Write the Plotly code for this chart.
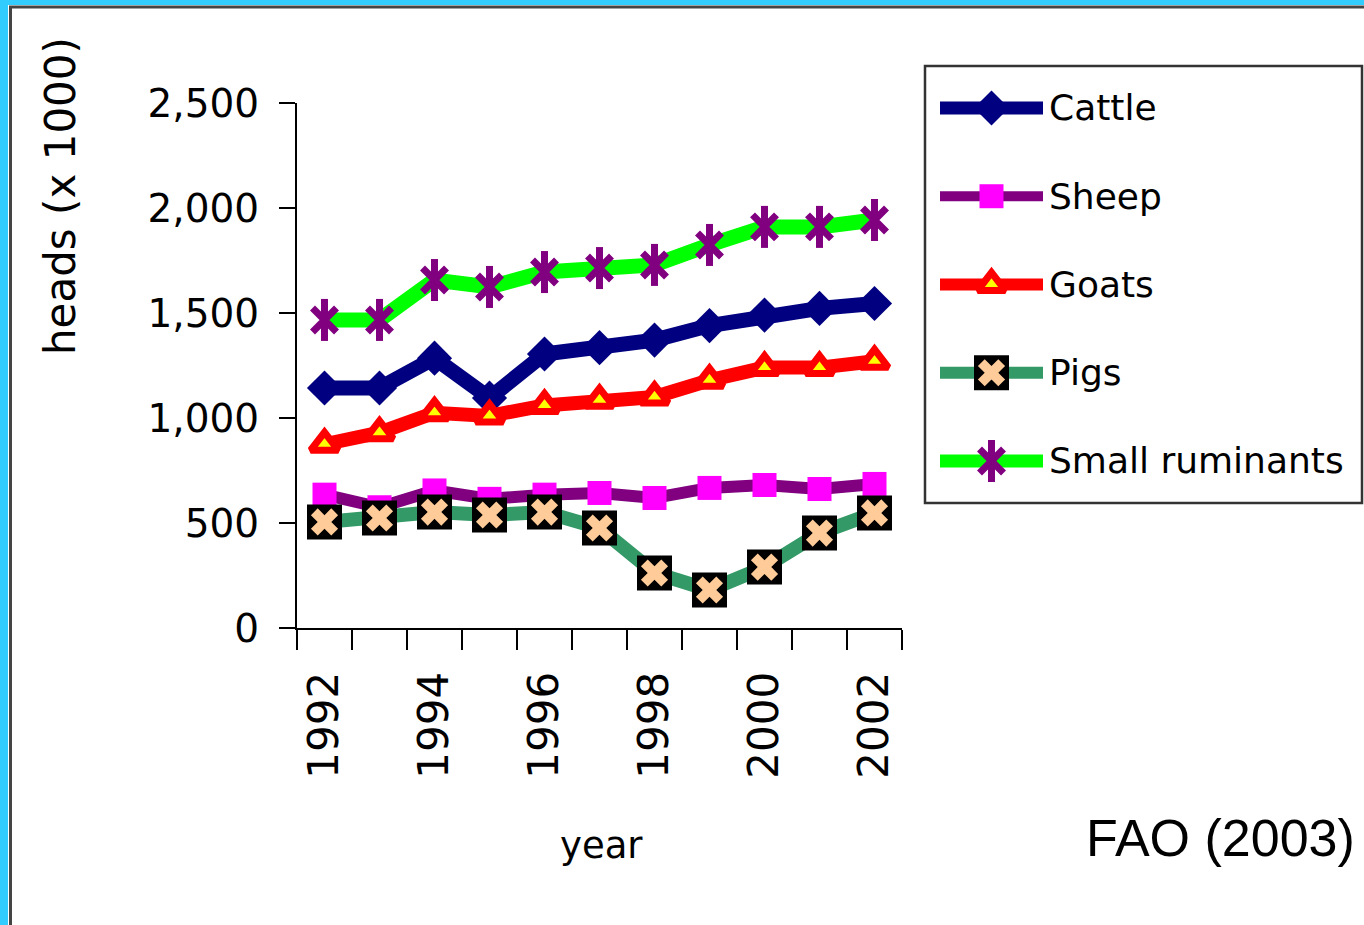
import plotly.graph_objects as go

# ---------------- data ----------------
years = [1992, 1993, 1994, 1995, 1996, 1997, 1998, 1999, 2000, 2001, 2002]
series_names = ["Cattle", "Sheep", "Goats", "Pigs", "Small ruminants"]
cattle = [1143, 1143, 1285, 1095, 1305, 1335, 1371, 1440, 1490, 1522, 1545]
sheep = [635, 575, 655, 615, 635, 643, 619, 667, 681, 662, 686]
goats = [875, 930, 1025, 1010, 1060, 1085, 1100, 1180, 1240, 1240, 1270]
pigs = [505, 524, 552, 538, 552, 476, 262, 181, 290, 452, 548]
small_ruminants = [1467, 1467, 1657, 1624, 1695, 1714, 1729, 1824, 1910, 1910, 1943]
y_tick_values = [0, 500, 1000, 1500, 2000, 2500]
x_tick_years = [1992, 1994, 1996, 1998, 2000, 2002]
y_title = "heads (x 1000)"
x_title = "year"
source_text = "FAO (2003)"

values = {
    "Cattle": cattle,
    "Sheep": sheep,
    "Goats": goats,
    "Pigs": pigs,
    "Small ruminants": small_ruminants,
}

# ---------------- styles ----------------
STYLE = {
    "Cattle": dict(line="#000080", lw=15, layers=[
        dict(symbol="diamond", size=27, color="#000080", line=dict(width=0))]),
    "Sheep": dict(line="#800080", lw=12, layers=[
        dict(symbol="square", size=24, color="#FF00FF", line=dict(width=0))]),
    "Goats": dict(line="#FF0000", lw=14, layers=[
        dict(symbol="triangle-up", size=24, color="#FFFF00",
             line=dict(color="#FF0000", width=7))]),
    "Pigs": dict(line="#339966", lw=14, layers=[
        dict(symbol="square", size=35, color="#000000", line=dict(width=0)),
        dict(symbol="x", size=24, color="#FFCC99", line=dict(width=0))]),
    "Small ruminants": dict(line="#00FF00", lw=15, layers=[
        dict(symbol="x-thin-open", size=24, color="#800080",
             line=dict(color="#800080", width=7)),
        dict(symbol="line-ns-open", size=30, color="#800080",
             line=dict(color="#800080", width=7))]),
}

W, H = 1364, 925


def px(x):
    return x / W


def py(y):
    return 1 - y / H


COMIC = "Comic Sans MS, DejaVu Sans, sans-serif"

fig = go.Figure()

# main series
for name in series_names:
    st = STYLE[name]
    fig.add_trace(go.Scatter(
        x=years, y=values[name], mode="lines",
        line=dict(color=st["line"], width=st["lw"]),
        name=name, hoverinfo="skip", xaxis="x", yaxis="y"))
    for mk in st["layers"]:
        fig.add_trace(go.Scatter(
            x=years, y=values[name], mode="markers", marker=mk,
            name=name, hoverinfo="skip", xaxis="x", yaxis="y"))

# custom legend samples (drawn on an auxiliary axis)
for i, name in enumerate(series_names):
    st = STYLE[name]
    fig.add_trace(go.Scatter(
        x=[0, 1], y=[i, i], mode="lines",
        line=dict(color=st["line"], width=st["lw"] - 2),
        hoverinfo="skip", xaxis="x2", yaxis="y2"))
    for mk in st["layers"]:
        fig.add_trace(go.Scatter(
            x=[0.5], y=[i], mode="markers", marker=mk,
            hoverinfo="skip", xaxis="x2", yaxis="y2"))

minor_ticks = [y - 0.5 for y in years] + [years[-1] + 0.5]

fig.update_layout(
    width=W, height=H,
    margin=dict(l=0, r=0, t=0, b=0),
    paper_bgcolor="white", plot_bgcolor="white",
    showlegend=False,
    xaxis=dict(
        domain=[px(297), px(902)],
        range=[years[0] - 0.5, years[-1] + 0.5],
        tickvals=x_tick_years, ticktext=[str(v) for v in x_tick_years],
        tickangle=-90,
        ticks="outside", ticklen=20, tickwidth=2, tickcolor="rgba(0,0,0,0)",
        minor=dict(tickvals=minor_ticks, ticks="outside", ticklen=20,
                   tickwidth=2, tickcolor="black", showgrid=False),
        ticklabelstandoff=5,
        showline=True, linecolor="black", linewidth=2,
        showgrid=False, zeroline=False,
        tickfont=dict(family=COMIC, size=42, color="black"),
        anchor="y", automargin=False, fixedrange=True,
    ),
    yaxis=dict(
        domain=[py(628), py(103)],
        range=[0, 2500],
        tickvals=y_tick_values, tickformat=",",
        ticks="outside", ticklen=16, tickwidth=2, tickcolor="black",
        ticklabelstandoff=12,
        showline=True, linecolor="black", linewidth=2,
        showgrid=False, zeroline=False,
        tickfont=dict(family=COMIC, size=39, color="black"),
        anchor="x", automargin=False, fixedrange=True,
    ),
    xaxis2=dict(domain=[px(940), px(1043)], range=[0, 1], visible=False,
                anchor="y2", fixedrange=True),
    yaxis2=dict(domain=[py(503), py(65)], range=[4.476, -0.487], visible=False,
                anchor="x2", fixedrange=True),
)

shapes = [
    # outer frame: blue band at left and top
    dict(type="rect", xref="paper", yref="paper", x0=0, x1=px(8), y0=0, y1=1,
         fillcolor="#33CCFF", line=dict(width=0)),
    dict(type="rect", xref="paper", yref="paper", x0=0, x1=1, y0=py(5), y1=1,
         fillcolor="#33CCFF", line=dict(width=0)),
    dict(type="line", xref="paper", yref="paper", x0=px(10.5), x1=px(10.5),
         y0=0, y1=py(7), line=dict(color="#444444", width=3)),
    dict(type="line", xref="paper", yref="paper", x0=px(9), x1=1,
         y0=py(7), y1=py(7), line=dict(color="#444444", width=3)),
    # legend box
    dict(type="rect", xref="paper", yref="paper", x0=px(925), x1=px(1362),
         y0=py(503), y1=py(66), fillcolor="rgba(0,0,0,0)",
         line=dict(color="#333333", width=2.5)),
]

annotations = []
for i, name in enumerate(series_names):
    annotations.append(dict(
        xref="paper", yref="y2", x=px(1047), y=i, text=name, showarrow=False,
        xanchor="left", yanchor="middle",
        font=dict(family=COMIC, size=36, color="black")))

annotations += [
    dict(xref="paper", yref="paper", x=px(601), y=py(845), text=x_title,
         showarrow=False, xanchor="center", yanchor="middle",
         font=dict(family=COMIC, size=37, color="black")),
    dict(xref="paper", yref="paper", x=px(60), y=py(196), text=y_title,
         showarrow=False, textangle=-90, xanchor="center", yanchor="middle",
         font=dict(family="DejaVu Sans, Verdana, sans-serif", size=42,
                   color="black")),
    dict(xref="paper", yref="paper", x=px(1357), y=py(838), text=source_text,
         showarrow=False, xanchor="right", yanchor="middle",
         font=dict(family="Liberation Sans, Arial, sans-serif", size=52,
                   color="black")),
]

fig.update_layout(shapes=shapes, annotations=annotations)

fig.write_html(
    "out.html",
    config={"displayModeBar": False, "staticPlot": True},
    post_script="document.body.style.margin='0';"
                "document.body.style.overflow='hidden';",
)
